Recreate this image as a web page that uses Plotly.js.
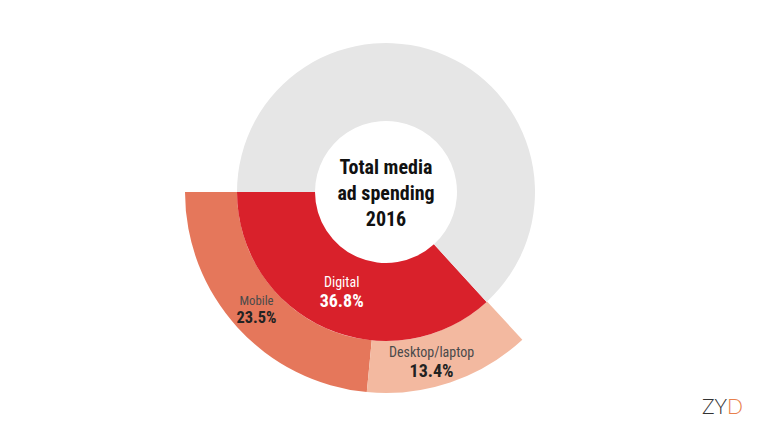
<!DOCTYPE html>
<html>
<head>
<meta charset="utf-8">
<script src="https://cdn.plot.ly/plotly-3.0.1.min.js"></script>
<style>
html,body{margin:0;padding:0;overflow:hidden;background:#fff;width:768px;height:432px;}
#chart{position:absolute;left:0;top:-10px;width:768px;height:452px;}
</style>
</head>
<body>
<div id="chart"></div>
<script>
// ---- data ----
var innerLabels = ["Digital", "Other media"];
var innerValues = [36.8, 63.2];
var outerLabels = ["Mobile", "Desktop/laptop", ""];
var outerValues = [23.5, 13.4, 63.2];
var centerTitle = ["Total media", "ad spending", "2016"];
var brand = ["ZY", "D"];

// ---- layout geometry (pixels inside the plot div) ----
var W = 768, H = 452;
var cx = 386, cy = 202;
var rInner = 149, rOuter = 201, rHole = 71;
var startAngle = 270; // slices start at 9 o'clock and run counterclockwise (downwards)
function dom(r) {
  return {
    x: [(cx - r) / W, (cx + r) / W],
    y: [1 - (cy + r) / H, 1 - (cy - r) / H]
  };
}
function total(values) { return values.reduce(function (a, b) { return a + b; }, 0); }
function rot(values) { return startAngle - values[0] / total(values) * 360; }
var FONT = "Roboto Condensed, Liberation Sans Narrow, DejaVu Sans Condensed, Arial Narrow, sans-serif";

function labelText(l, v, labColor, pctColor) {
  return "<span style='font-size:14px;color:" + labColor + "'>" + l + "</span><br>" +
         "<b><span style='font-size:18px;color:" + pctColor + "'>" + v.toFixed(1) + "%</span></b>";
}

// outer ring: Mobile drawn by the pie's own inside text, Desktop/laptop via a label placed at its slice
var outerText = outerLabels.map(function (l, i) {
  return (l && i === 0) ? labelText(l, outerValues[i], "#4a4a4a", "#222222") : "";
});

var outer = {
  type: "pie",
  labels: outerLabels.map(function (l) { return l || "rest"; }),
  values: outerValues,
  sort: false,
  direction: "counterclockwise",
  rotation: rot(outerValues),
  hole: rInner / rOuter,
  domain: dom(rOuter),
  marker: { colors: ["#e5775b", "#f3b9a0", "rgba(0,0,0,0)"], line: { width: 0 } },
  texttemplate: outerText,
  textposition: ["inside", "none", "none"],
  insidetextorientation: "horizontal",
  textfont: { family: FONT, size: 15, color: "#333333" },
  hoverinfo: "skip",
  showlegend: false
};

var inner = {
  type: "pie",
  labels: innerLabels,
  values: innerValues,
  sort: false,
  direction: "counterclockwise",
  rotation: rot(innerValues),
  hole: rHole / rInner,
  domain: dom(rInner),
  marker: { colors: ["#d9212b", "#e6e6e6"], line: { width: 0 } },
  texttemplate: [labelText(innerLabels[0], innerValues[0], "#ffffff", "#ffffff"), ""],
  textposition: ["inside", "none"],
  insidetextorientation: "horizontal",
  textfont: { family: FONT, size: 15, color: "#ffffff" },
  title: {
    text: centerTitle.join("<br>"),
    position: "middle center",
    font: { family: FONT, size: 20, color: "#111111", weight: "bold" }
  },
  hoverinfo: "skip",
  showlegend: false
};

// label position for the Desktop/laptop slice (mid-angle of its slice, clockwise from 12 o'clock)
var outTot = total(outerValues);
var deskMid = (rot(outerValues) - (outerValues[1] / 2) / outTot * 360) * Math.PI / 180;
var rLab = (rInner + rOuter) / 2 + 5;
var deskX = cx + rLab * Math.sin(deskMid);
var deskY = cy - rLab * Math.cos(deskMid);

var layout = {
  width: W, height: H,
  margin: { l: 0, r: 0, t: 0, b: 0 },
  paper_bgcolor: "#ffffff",
  showlegend: false,
  annotations: [{
    xref: "paper", yref: "paper",
    x: deskX / W, y: 1 - deskY / H,
    xanchor: "center", yanchor: "middle",
    xshift: -12,
    showarrow: false,
    text: labelText(outerLabels[1], outerValues[1], "#4a4a4a", "#222222"),
    font: { family: FONT, size: 15, color: "#333333" }
  }, {
    xref: "paper", yref: "paper",
    x: 722 / W, y: 1 - 415 / H,
    xanchor: "center", yanchor: "middle",
    showarrow: false,
    text: brand[0] + "<span style='color:#e8804c'>" + brand[1] + "</span>",
    font: { family: "Lato, Roboto, sans-serif", size: 21, color: "#333333", weight: 300 }
  }]
};

Plotly.newPlot("chart", [outer, inner], layout, { displayModeBar: false, staticPlot: true });
</script>
</body>
</html>
